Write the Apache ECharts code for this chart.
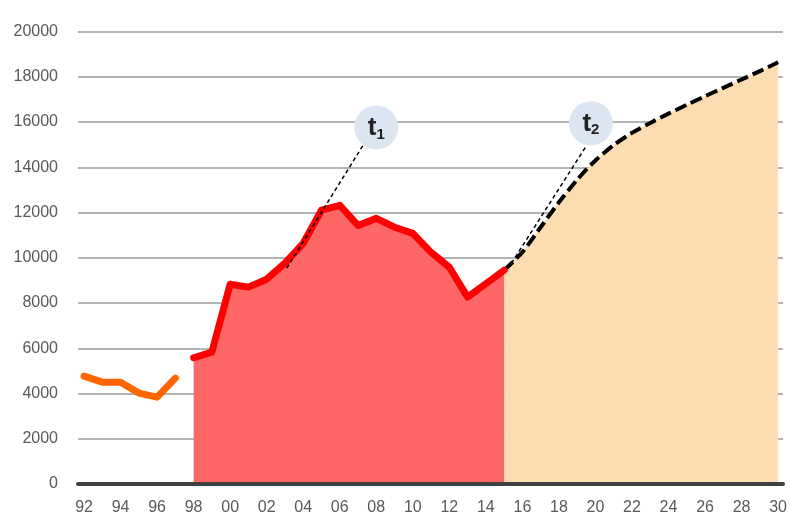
<!DOCTYPE html>
<html>
<head>
<meta charset="utf-8">
<script src="https://cdn.jsdelivr.net/npm/echarts@6/dist/echarts.min.js"></script>
<style>
html,body{margin:0;padding:0;background:#fff;}
#chart{width:790px;height:516px;}
</style>
</head>
<body>
<div id="chart"></div>
<script>
// ---- data ----
const earlyYears = [1992, 1993, 1994, 1995, 1996, 1997];
const earlyValues = [4770, 4500, 4500, 4020, 3840, 4680];

const histYears = [1998, 1999, 2000, 2001, 2002, 2003, 2004, 2005, 2006, 2007, 2008, 2009, 2010, 2011, 2012, 2013, 2014, 2015];
const histValues = [5580, 5830, 8830, 8700, 9050, 9760, 10640, 12100, 12320, 11430, 11740, 11350, 11080, 10240, 9580, 8260, 8850, 9450];

const projYears = [2015, 2016, 2017, 2018, 2019, 2020, 2021, 2022, 2023, 2024, 2025, 2026, 2027, 2028, 2029, 2030];
const projValues = [9450, 10250, 11350, 12450, 13450, 14300, 14980, 15520, 15960, 16370, 16760, 17140, 17510, 17880, 18250, 18640];

const tickYears = [1992, 1994, 1996, 1998, 2000, 2002, 2004, 2006, 2008, 2010, 2012, 2014, 2016, 2018, 2020, 2022, 2024, 2026, 2028, 2030];

// annotation markers (year, value) and their pointer lines
const markerNames = ['1', '2'];
const markerYears = [2008.0, 2019.75];
const markerValues = [15760, 15940];
const pointer1 = [[2003.1, 9540], [2007.3, 15000]];
const pointer2 = [[2015.4, 9760], [2019.45, 14880]];

const zip = (xs, ys) => xs.map((x, i) => [x, ys[i]]);

const FONT = '"Liberation Sans", Arial, sans-serif';
const chart = echarts.init(document.getElementById('chart'));

chart.setOption({
  animation: false,
  backgroundColor: '#ffffff',
  grid: { left: 78, right: 3, top: 31.5, bottom: 32, containLabel: false },
  xAxis: {
    type: 'value',
    min: 1991.67,
    max: 2030.27,
    z: 10,
    axisLine: { show: true, onZero: false, lineStyle: { color: '#404040', width: 4 } },
    axisTick: { show: false },
    splitLine: { show: false },
    axisLabel: {
      customValues: tickYears,
      formatter: v => String(Math.round(v) % 100).padStart(2, '0'),
      color: '#595959',
      fontSize: 16,
      fontFamily: FONT,
      margin: 16
    }
  },
  yAxis: {
    type: 'value',
    min: 0,
    max: 20000,
    interval: 2000,
    axisLine: { show: false },
    axisTick: { show: false },
    splitLine: { show: true, lineStyle: { color: '#9a9a9a', width: 1.5 } },
    axisLabel: {
      formatter: v => String(v),
      color: '#595959',
      fontSize: 16,
      fontFamily: FONT,
      margin: 20,
      padding: [0, 0, 10, 0]
    }
  },
  series: [
    {
      type: 'line',
      data: zip(projYears, projValues),
      smooth: 0.3,
      symbol: 'none',
      z: 3,
      lineStyle: { color: '#000000', width: 4, type: [12, 5] },
      areaStyle: { color: '#fcddb1', opacity: 1 }
    },
    {
      type: 'line',
      data: zip(histYears, histValues),
      symbol: 'none',
      z: 4,
      lineStyle: { color: '#ff0000', width: 7, join: 'round', cap: 'round' },
      areaStyle: { color: '#ff6666', opacity: 1 }
    },
    {
      type: 'line',
      data: zip(earlyYears, earlyValues),
      symbol: 'none',
      z: 4,
      lineStyle: { color: '#ff6600', width: 7, join: 'round', cap: 'round' }
    },
    {
      type: 'line',
      data: pointer1,
      symbol: 'none',
      z: 6,
      lineStyle: { color: '#000000', width: 1.5, type: [4, 3] }
    },
    {
      type: 'line',
      data: pointer2,
      symbol: 'none',
      z: 6,
      lineStyle: { color: '#000000', width: 1.5, type: [4, 3] }
    },
    {
      type: 'scatter',
      data: zip(markerYears, markerValues).map((p, i) => ({ value: p, name: markerNames[i] })),
      symbol: 'circle',
      symbolSize: 44,
      z: 7,
      itemStyle: { color: '#dbe6f2', opacity: 1 },
      label: {
        show: true,
        position: 'inside',
        formatter: p => '{t|t}{s|' + p.name + '}',
        rich: {
          t: { fontSize: 26, fontWeight: 'bold', color: '#222', fontFamily: FONT },
          s: { fontSize: 15, fontWeight: 'bold', color: '#222', fontFamily: FONT, padding: [14, 0, 0, 0] }
        }
      }
    }
  ]
});
</script>
</body>
</html>
